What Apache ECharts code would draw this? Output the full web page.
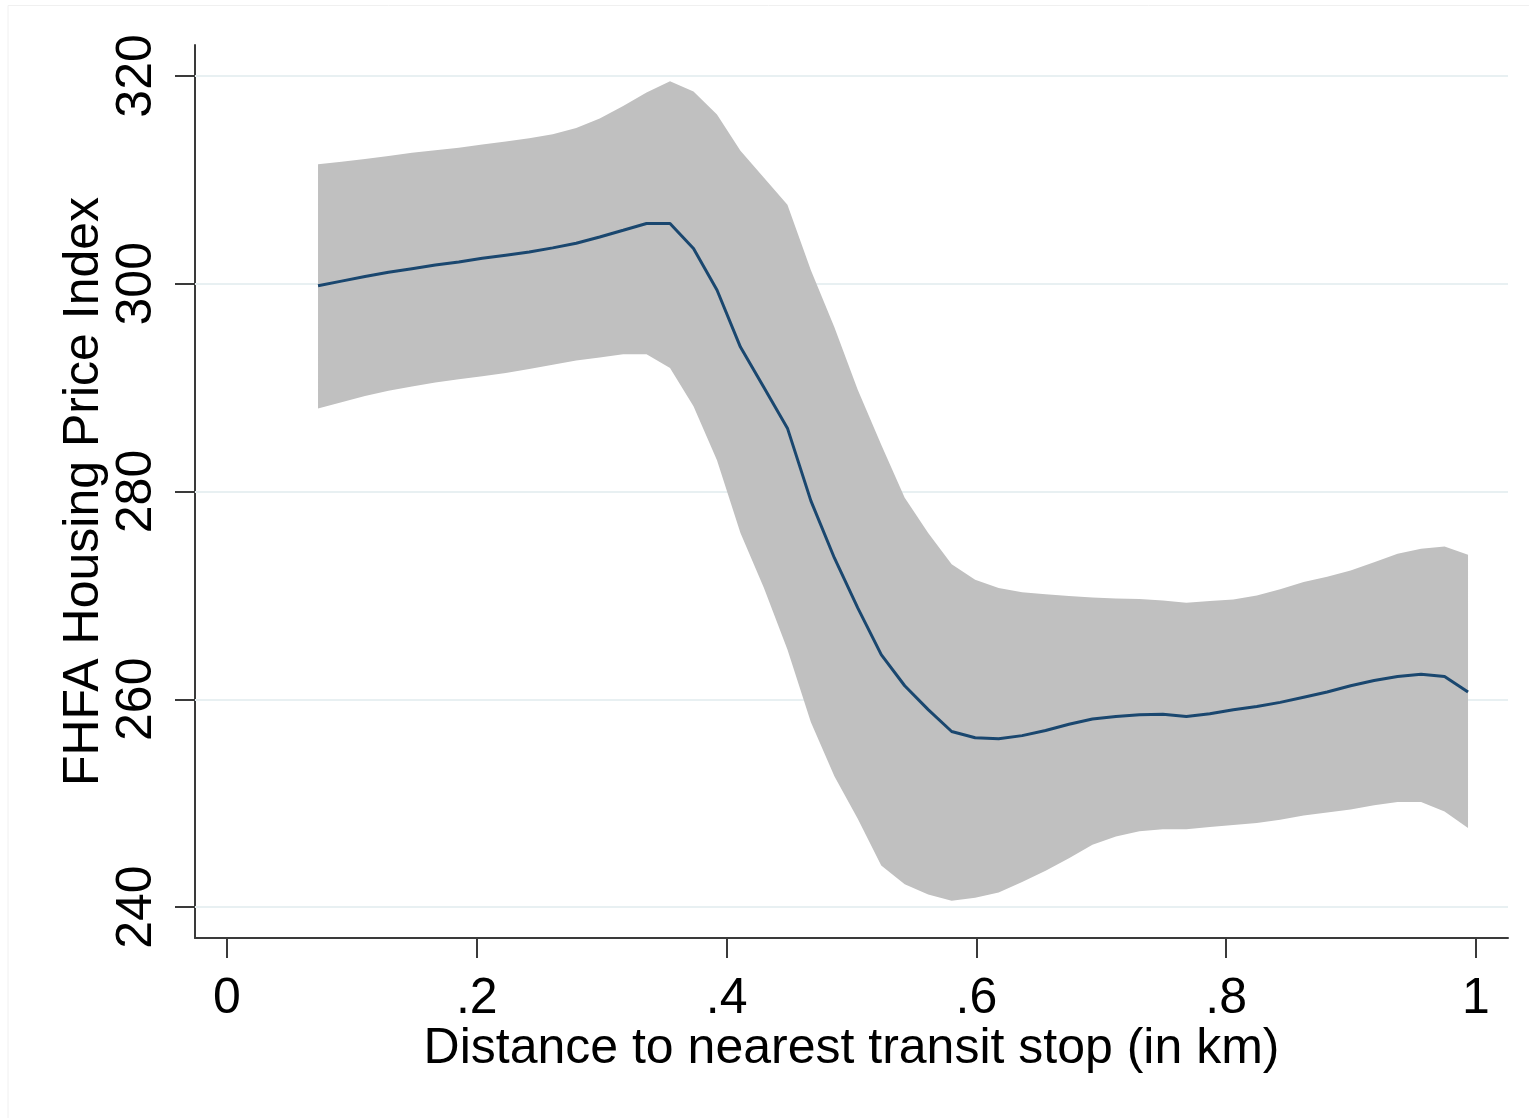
<!DOCTYPE html>
<html>
<head>
<meta charset="utf-8">
<script src="https://cdn.jsdelivr.net/npm/echarts@6/dist/echarts.min.js"></script>
<style>
  html, body { margin: 0; padding: 0; background: #ffffff; }
  #chart { width: 1529px; height: 1118px; }
</style>
</head>
<body>
<div id="chart"></div>
<script>
// Distance to nearest transit stop (km) – evaluation grid
const distance = [
  0.0729, 0.0917, 0.1105, 0.1293, 0.1481, 0.1668, 0.1856, 0.2044, 0.2232, 0.2420,
  0.2608, 0.2796, 0.2984, 0.3172, 0.3359, 0.3547, 0.3735, 0.3923, 0.4111, 0.4299,
  0.4487, 0.4675, 0.4863, 0.5050, 0.5238, 0.5426, 0.5614, 0.5802, 0.5990, 0.6178,
  0.6366, 0.6554, 0.6741, 0.6929, 0.7117, 0.7305, 0.7493, 0.7681, 0.7869, 0.8057,
  0.8245, 0.8432, 0.8620, 0.8808, 0.8996, 0.9184, 0.9372, 0.9560, 0.9748, 0.9936
];
// Fitted FHFA Housing Price Index
const fitted = [
  299.8, 300.25, 300.7, 301.1, 301.45, 301.8, 302.1, 302.45, 302.75, 303.05,
  303.45, 303.9, 304.5, 305.15, 305.8, 305.8, 303.4, 299.4, 293.9, 290.0,
  286.1, 279.1, 273.6, 268.8, 264.3, 261.3, 259.0, 256.9, 256.3, 256.2,
  256.5, 257.0, 257.6, 258.1, 258.35, 258.5, 258.55, 258.35, 258.6, 259.0,
  259.3, 259.7, 260.2, 260.7, 261.3, 261.8, 262.2, 262.4, 262.2, 260.7
];
// Upper confidence bound
const upperCI = [
  311.5, 311.75, 312.0, 312.3, 312.6, 312.85, 313.1, 313.4, 313.7, 314.0,
  314.4, 315.0, 315.9, 317.1, 318.4, 319.5, 318.5, 316.3, 312.8, 310.2,
  307.6, 301.3, 295.8, 289.8, 284.5, 279.4, 276.0, 273.0, 271.5, 270.7,
  270.3, 270.1, 269.95, 269.8, 269.7, 269.65, 269.5, 269.3, 269.45, 269.6,
  270.0, 270.6, 271.3, 271.8, 272.4, 273.2, 274.0, 274.5, 274.7, 273.9
];
// Lower confidence bound
const lowerCI = [
  288.0, 288.6, 289.2, 289.7, 290.1, 290.5, 290.8, 291.1, 291.4, 291.8,
  292.2, 292.6, 292.9, 293.2, 293.2, 291.9, 288.2, 283.0, 276.0, 270.7,
  264.8, 257.8, 252.6, 248.5, 244.0, 242.2, 241.2, 240.6, 240.9, 241.4,
  242.4, 243.5, 244.7, 246.0, 246.8, 247.3, 247.5, 247.5, 247.7, 247.9,
  248.1, 248.4, 248.8, 249.1, 249.4, 249.8, 250.1, 250.1, 249.2, 247.6
];
// Tick labels
const xTicks = [0, 0.2, 0.4, 0.6, 0.8, 1];
const yTicks = [240, 260, 280, 300, 320];

const FONT = "'Liberation Sans', Arial, Helvetica, sans-serif";
const AXIS_COLOR = '#3a3a3a';
const FS = 50;

const chart = echarts.init(document.getElementById('chart'), null, { renderer: 'canvas' });

function fmtX(v) {
  if (Math.abs(v) < 1e-9) return '0';
  if (Math.abs(v - 1) < 1e-9) return '1';
  return String(Math.round(v * 10) / 10).replace(/^0/, '');
}

const bandData = distance.map((x, i) => [x, upperCI[i], lowerCI[i]]);
const lineData = distance.map((x, i) => [x, fitted[i]]);

const option = {
  animation: false,
  backgroundColor: '#ffffff',
  grid: { left: 195, top: 45, right: 21, bottom: 180, containLabel: false },
  graphic: [{
    type: 'polyline',
    silent: true,
    shape: { points: [[8, 1118], [8, 5.5], [1529, 5.5]] },
    style: { stroke: '#f0f0f0', lineWidth: 1, fill: null }
  }],
  xAxis: {
    type: 'value',
    min: -0.0256,
    max: 1.0256,
    name: 'Distance to nearest transit stop (in km)',
    nameLocation: 'middle',
    nameGap: 86,
    nameMoveOverlap: false,
    nameTextStyle: { fontFamily: FONT, fontSize: FS, color: '#000', verticalAlign: 'top' },
    axisLine: { show: true, onZero: false, lineStyle: { color: AXIS_COLOR, width: 2 } },
    axisTick: { show: true, length: 20, inside: false, customValues: xTicks, lineStyle: { color: AXIS_COLOR, width: 2 } },
    axisLabel: { show: true, margin: 36, customValues: xTicks, formatter: fmtX, fontFamily: FONT, fontSize: FS, color: '#000' },
    splitLine: { show: false }
  },
  yAxis: {
    type: 'value',
    min: 237.02,
    max: 322.98,
    name: 'FHFA Housing Price Index',
    nameLocation: 'middle',
    nameGap: 86,
    nameRotate: 90,
    nameMoveOverlap: false,
    nameTextStyle: { fontFamily: FONT, fontSize: FS, color: '#000' },
    axisLine: { show: true, onZero: false, lineStyle: { color: AXIS_COLOR, width: 2 } },
    axisTick: { show: true, length: 20, inside: false, customValues: yTicks, lineStyle: { color: AXIS_COLOR, width: 2 } },
    axisLabel: { show: true, margin: 33, rotate: 90, customValues: yTicks, formatter: v => String(v), fontFamily: FONT, fontSize: FS, color: '#000' },
    splitLine: { show: false }
  },
  series: [
    {
      name: 'grid',
      type: 'line',
      data: [],
      z: 1,
      silent: true,
      markLine: {
        silent: true,
        z: 1,
        symbol: ['none', 'none'],
        label: { show: false },
        lineStyle: { color: '#e8f0f2', width: 2, type: 'solid' },
        data: yTicks.map(v => ({ yAxis: v }))
      }
    },
    {
      name: 'CI',
      type: 'custom',
      z: 10,
      silent: true,
      data: bandData,
      encode: { x: 0, y: [1, 2] },
      renderItem: function (params, api) {
        if (params.dataIndex !== 0) return null;
        const pts = [];
        for (let i = 0; i < distance.length; i++) pts.push(api.coord([distance[i], upperCI[i]]));
        for (let i = distance.length - 1; i >= 0; i--) pts.push(api.coord([distance[i], lowerCI[i]]));
        return {
          type: 'polygon',
          shape: { points: pts },
          style: { fill: '#c0c0c0', stroke: null }
        };
      }
    },
    {
      name: 'Fitted',
      type: 'line',
      z: 11,
      data: lineData,
      showSymbol: false,
      symbol: 'none',
      smooth: false,
      lineStyle: { color: '#1a476f', width: 3 }
    }
  ]
};

chart.setOption(option);
</script>
</body>
</html>
